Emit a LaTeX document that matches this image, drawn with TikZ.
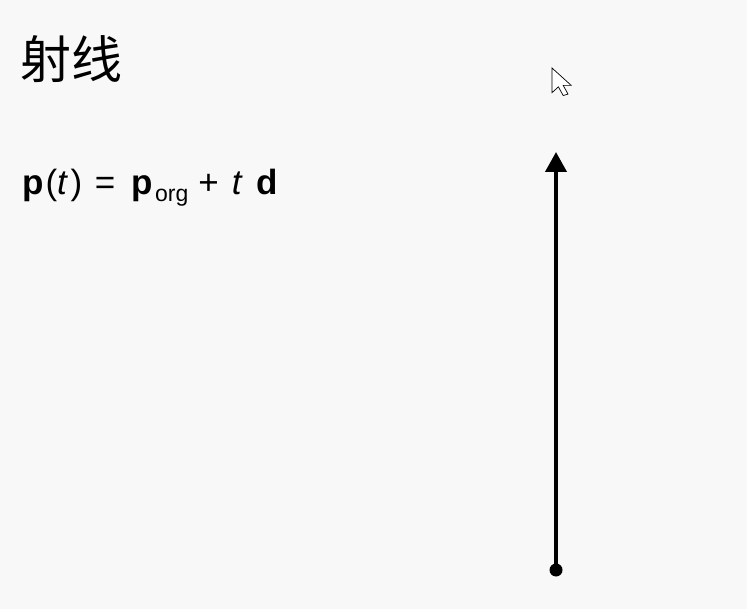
\documentclass[tikz,border=0pt]{standalone}
\usepackage{fontspec}
\setmainfont{Liberation Sans}
\newfontfamily\cjk{Noto Sans CJK SC}
\usetikzlibrary{arrows.meta}
\definecolor{slidebg}{RGB}{248,248,248}

\begin{document}
\begin{tikzpicture}[x=1pt, y=-1pt,
    ray/.style={line width=4pt, -{Triangle[length=20pt, width=21pt]}},
    title node/.style={anchor=west, inner sep=0pt, font=\cjk\fontsize{51}{56}\selectfont},
    eq node/.style={anchor=base west, inner sep=0pt, font=\fontsize{35}{38}\selectfont}]
  \fill[slidebg] (0,0) rectangle (747,609);
  \useasboundingbox (0,0) rectangle (747,609);

  \node[title node] (title) at (20,59) {射线};
  \node[eq node] (eq) at (22,195) {{\bfseries p}\hspace{2pt}(\textit{t}\hspace{2.5pt})\hspace{12.5pt}=\hspace{16.5pt}{\bfseries p}\hspace{2pt}\raisebox{-7pt}{\fontsize{23}{26}\selectfont org}\hspace{10pt}+\hspace{13pt}\textit{t}\hspace{14pt}{\bfseries d}};

  % the ray: origin and direction
  \coordinate (org) at (556,570);
  \coordinate (tip) at (556,152);
  \draw[ray] (org) -- (tip);
  \fill (org) circle (6.5pt);

  % mouse pointer
  \begin{scope}[shift={(552,68)}, xscale=1.6, yscale=1.45]
    \filldraw[fill=white, draw=black, line width=0.7pt]
      (0,0) -- (0,17) -- (4,13) -- (7,19) -- (10,18) -- (7,12) -- (12,12) -- cycle;
  \end{scope}
\end{tikzpicture}
\end{document}
